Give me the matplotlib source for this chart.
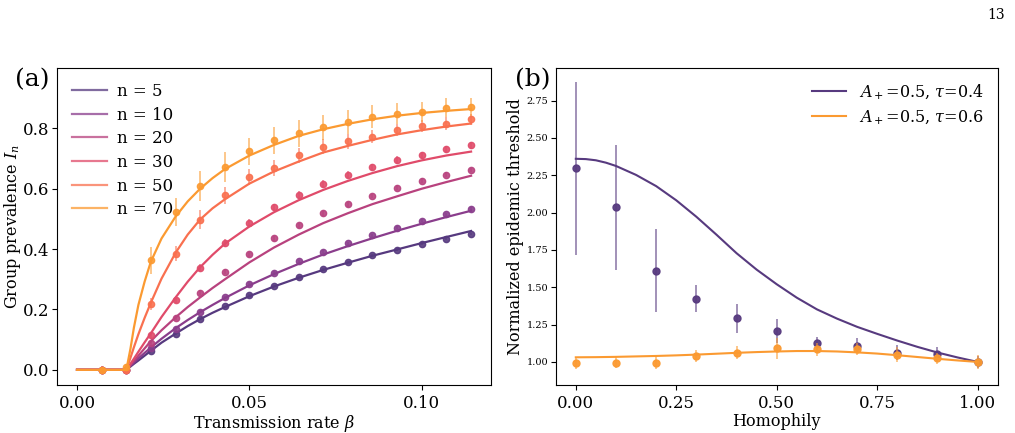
import numpy as np
import matplotlib
matplotlib.use('Agg')
import matplotlib.pyplot as plt

plt.rcParams['font.family'] = ['DejaVu Serif']
plt.rcParams['mathtext.fontset'] = 'dejavuserif'

# ---- panel (a): group prevalence vs transmission rate ----
n_labels = ['n = 5', 'n = 10', 'n = 20', 'n = 30', 'n = 50', 'n = 70']
colors_a = ['#56397f', '#8a3d8c', '#b8427e', '#e04b6a', '#f9704f', '#fb9a31']

beta_sim = [0.0071, 0.0143, 0.0214, 0.0286, 0.0357, 0.0429, 0.0500, 0.0571,
            0.0643, 0.0714, 0.0786, 0.0857, 0.0929, 0.1000, 0.1071, 0.1143]

sim_n5 = [0, 0, 0.063, 0.120, 0.169, 0.210, 0.247, 0.279, 0.307, 0.333, 0.357, 0.380, 0.398, 0.418, 0.434, 0.451]
sim_n10 = [0, 0, 0.072, 0.134, 0.192, 0.240, 0.285, 0.322, 0.359, 0.391, 0.419, 0.446, 0.470, 0.494, 0.515, 0.533]
sim_n20 = [0, 0, 0.090, 0.173, 0.255, 0.325, 0.383, 0.436, 0.479, 0.518, 0.548, 0.576, 0.603, 0.626, 0.647, 0.662]
sim_n30 = [0, 0, 0.114, 0.233, 0.338, 0.420, 0.487, 0.538, 0.579, 0.616, 0.647, 0.671, 0.695, 0.711, 0.730, 0.744]
sim_n50 = [0, 0, 0.218, 0.385, 0.498, 0.578, 0.638, 0.668, 0.711, 0.739, 0.757, 0.773, 0.794, 0.808, 0.816, 0.830]
sim_n70 = [0, 0.011, 0.363, 0.523, 0.609, 0.673, 0.724, 0.760, 0.784, 0.803, 0.820, 0.839, 0.849, 0.855, 0.869, 0.872]

err_n5 = [0.003] * 16
err_n10 = [0.005] * 16
err_n20 = [0.008] * 16
err_n30 = [0.012] * 16
err_n50 = [0.0, 0.005, 0.02, 0.025, 0.03, 0.028, 0.027, 0.026, 0.025, 0.025, 0.024, 0.022, 0.02, 0.02, 0.02, 0.018]
err_n70 = [0.0, 0.01, 0.045, 0.045, 0.05, 0.05, 0.045, 0.045, 0.045, 0.042, 0.04, 0.037, 0.035, 0.033, 0.03, 0.03]

beta_th = [0, 0.0071, 0.0143, 0.0155, 0.0165, 0.0178, 0.0196, 0.0214, 0.0245, 0.0286, 0.0321,
           0.0357, 0.0393, 0.0429, 0.0500, 0.0571, 0.0643, 0.0714, 0.0786, 0.0857, 0.0929,
           0.1000, 0.1071, 0.1143]
th_n5 = [0, 0, 0, 0.011, 0.020, 0.031, 0.047, 0.063, 0.090, 0.120, 0.145, 0.168, 0.189, 0.208,
         0.244, 0.276, 0.305, 0.331, 0.355, 0.378, 0.399, 0.420, 0.440, 0.460]
th_n10 = [0, 0, 0, 0.013, 0.024, 0.038, 0.056, 0.074, 0.103, 0.138, 0.165, 0.191, 0.215, 0.238,
          0.280, 0.317, 0.351, 0.382, 0.410, 0.436, 0.461, 0.484, 0.506, 0.527]
th_n20 = [0, 0, 0, 0.016, 0.030, 0.047, 0.071, 0.095, 0.131, 0.174, 0.208, 0.240, 0.271, 0.300,
          0.356, 0.405, 0.448, 0.486, 0.519, 0.549, 0.575, 0.600, 0.622, 0.643]
th_n30 = [0, 0, 0, 0.020, 0.037, 0.060, 0.091, 0.121, 0.175, 0.240, 0.292, 0.340, 0.381, 0.418,
          0.475, 0.522, 0.562, 0.596, 0.626, 0.652, 0.675, 0.694, 0.710, 0.723]
th_n50 = [0, 0, 0, 0.040, 0.075, 0.118, 0.172, 0.222, 0.302, 0.388, 0.448, 0.498, 0.535, 0.565,
          0.617, 0.657, 0.690, 0.720, 0.742, 0.762, 0.780, 0.794, 0.806, 0.816]
th_n70 = [0, 0, 0, 0.070, 0.140, 0.215, 0.292, 0.358, 0.435, 0.508, 0.558, 0.600, 0.635, 0.665,
          0.710, 0.745, 0.775, 0.797, 0.815, 0.830, 0.842, 0.851, 0.858, 0.864]

sims = [sim_n5, sim_n10, sim_n20, sim_n30, sim_n50, sim_n70]
errs = [err_n5, err_n10, err_n20, err_n30, err_n50, err_n70]
theory = [th_n5, th_n10, th_n20, th_n30, th_n50, th_n70]

# ---- panel (b): normalized threshold vs homophily ----
homophily = [0.0, 0.1, 0.2, 0.3, 0.4, 0.5, 0.6, 0.7, 0.8, 0.9, 1.0]
thr_tau04 = [2.297, 2.034, 1.611, 1.423, 1.291, 1.205, 1.125, 1.107, 1.062, 1.053, 1.0]
thr_tau04_err = [0.58, 0.42, 0.28, 0.09, 0.10, 0.08, 0.045, 0.05, 0.05, 0.045, 0.04]
thr_tau06 = [0.994, 0.996, 0.996, 1.038, 1.062, 1.091, 1.085, 1.089, 1.047, 1.023, 1.0]
thr_tau06_err = [0.04, 0.035, 0.045, 0.04, 0.045, 0.07, 0.045, 0.04, 0.05, 0.04, 0.045]

h_th = [0.0, 0.025, 0.05, 0.075, 0.1, 0.15, 0.2, 0.25, 0.3, 0.35, 0.4, 0.45, 0.5, 0.55, 0.6,
        0.65, 0.7, 0.75, 0.8, 0.85, 0.9, 0.95, 1.0]
th_tau04 = [2.36, 2.358, 2.35, 2.334, 2.312, 2.252, 2.177, 2.082, 1.972, 1.852, 1.728, 1.618,
            1.52, 1.43, 1.352, 1.29, 1.235, 1.188, 1.143, 1.101, 1.063, 1.03, 1.0]
th_tau06 = [1.031, 1.0315, 1.032, 1.033, 1.034, 1.037, 1.04, 1.044, 1.049, 1.055, 1.061, 1.066,
            1.07, 1.073, 1.073, 1.07, 1.064, 1.056, 1.045, 1.033, 1.021, 1.01, 1.0]
labels_b = [r'$A_+$=0.5, $\tau$=0.4', r'$A_+$=0.5, $\tau$=0.6']
colors_b = ['#573a7f', '#fb9a31']

fig = plt.figure(figsize=(10.15, 4.33), dpi=100)
ax1 = fig.add_axes([0.0562, 0.111, 0.4276, 0.732])
ax2 = fig.add_axes([0.5475, 0.111, 0.4355, 0.732])

for lab, c, s, e, t in zip(n_labels, colors_a, sims, errs, theory):
    ax1.errorbar(beta_sim, s, yerr=e, fmt='none', ecolor=c, elinewidth=1.3, alpha=0.6)
    ax1.plot(beta_sim, s, 'o', color=c, ms=4.5, alpha=0.9)
    ax1.plot(beta_th, t, color=c, lw=1.6, label=lab)

ax1.set_xlim(-0.0058, 0.1201)
ax1.set_ylim(-0.05, 1.0)
ax1.set_xticks([0.0, 0.05, 0.10])
ax1.set_xticklabels(['0.00', '0.05', '0.10'])
ax1.set_yticks([0.0, 0.2, 0.4, 0.6, 0.8])
ax1.tick_params(labelsize=12)
ax1.tick_params(axis='y', pad=2)
ax1.set_xlabel(r'Transmission rate $\beta$', fontsize=11.5, labelpad=1)
ax1.set_ylabel(r'Group prevalence $I_n$', fontsize=11.5)
ax1.yaxis.set_label_coords(-0.079, 0.5)
leg1 = ax1.legend(loc='upper left', frameon=False, fontsize=12, handlelength=2.1,
                  labelspacing=0.4, handletextpad=0.6)
for h in leg1.get_lines():
    h.set_alpha(0.75)
fig.text(0.015, 0.80, '(a)', fontsize=18)

for lab, c, y, e, t in zip(labels_b, colors_b, [thr_tau04, thr_tau06],
                           [thr_tau04_err, thr_tau06_err], [th_tau04, th_tau06]):
    ax2.errorbar(homophily, y, yerr=e, fmt='none', ecolor=c, elinewidth=1.3, alpha=0.6)
    ax2.plot(homophily, y, 'o', color=c, ms=5, alpha=0.95)
    ax2.plot(h_th, t, color=c, lw=1.5, label=lab)

ax2.set_xlim(-0.05, 1.05)
ax2.set_ylim(0.846, 2.968)
ax2.set_xticks([0.0, 0.25, 0.5, 0.75, 1.0])
ax2.set_yticks([1.0, 1.25, 1.5, 1.75, 2.0, 2.25, 2.5, 2.75])
ax2.tick_params(axis='x', labelsize=12)
ax2.tick_params(axis='y', labelsize=7, pad=2)
ax2.set_xlabel('Homophily', fontsize=11.5, labelpad=1)
ax2.set_ylabel('Normalized epidemic threshold', fontsize=11.5)
ax2.yaxis.set_label_coords(-0.071, 0.5)
leg2 = ax2.legend(loc='upper right', frameon=False, fontsize=11.5, handlelength=2.1,
                  labelspacing=0.4)
fig.text(0.507, 0.80, '(b)', fontsize=18)

fig.text(0.990, 0.955, '13', fontsize=10, ha='right')

fig.savefig('out.png', dpi=100)
